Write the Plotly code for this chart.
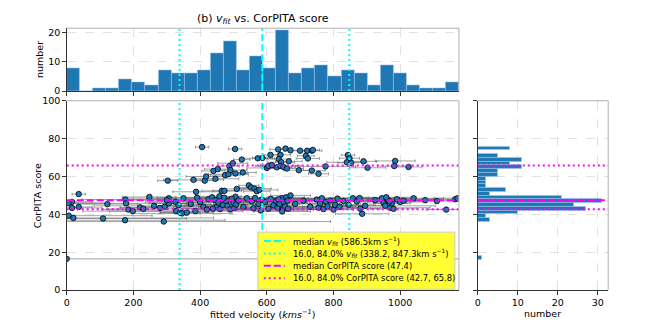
import plotly.graph_objects as go

# fitted velocity (km/s), CorPITA score, velocity error (km/s)
vfit = [0, 6, 20, 16, 16, 36, 36, 5,
        109, 122, 175, 176, 178, 185, 198, 220, 230, 248, 262,
        280, 291, 294, 303, 306, 306, 300,
        326, 328, 340, 346, 350, 335,
        360, 380, 386, 388, 391, 372,
        406, 414, 418, 400, 410, 425, 420,
        440, 446, 453, 465, 436, 445, 450, 455, 460, 462, 468, 438, 458,
        473, 475, 485, 488, 491, 498, 505, 506, 506, 478, 482, 490, 495, 500, 503, 508, 472,
        510, 525, 528, 546, 515, 530, 540,
        553, 563, 570, 578, 573, 587, 555, 560, 565, 575, 582, 585,
        611, 600, 605, 615, 595, 605, 612, 620,
        634, 656, 641, 636, 643, 630, 640, 650, 660, 628, 632, 638, 645, 648, 652, 655, 658, 662, 664, 635, 646,
        666, 671, 700, 696, 671, 685,
        721, 735, 738, 717, 723, 735, 710, 730,
        755, 776, 750, 755, 760, 765, 770, 778, 782,
        800, 790, 805, 812, 818,
        843, 848, 840, 853, 830, 845, 858,
        890, 886, 870, 878, 895, 880,
        902, 925,
        945, 950, 955, 960, 965, 970, 975, 958, 968,
        985, 982, 980, 990, 1000, 1010,
        1025, 1040, 1075, 1110, 1138, 1165, 1172]
score = [16.5, 39.3, 38.1, 46.6, 43.4, 43.9, 50.7, 46.0,
         37.8, 45.4, 36.9, 47.8, 45.8, 42.5, 41.7, 43.7, 42.9, 49.2, 44.5,
         43.4, 36.2, 44.0, 57.8, 48.5, 45.8, 47.5,
         46.6, 41.7, 40.9, 40.5, 48.5, 44.8,
         40.9, 58.2, 41.7, 51.9, 48.8, 45.5,
         75.5, 57.8, 60.0, 46.5, 44.0, 48.0, 42.5,
         62.9, 58.8, 63.9, 52.4, 49.0, 47.5, 44.0, 46.2, 42.8, 48.5, 45.0, 43.0, 49.5,
         52.4, 60.7, 61.2, 65.5, 63.4, 67.0, 74.5, 61.6, 49.3, 47.0, 44.5, 42.6, 48.2, 46.0, 43.5, 45.2, 48.8,
         53.4, 68.9, 62.1, 55.3, 47.3, 44.0, 48.5,
         54.2, 53.6, 52.2, 52.9, 69.6, 69.8, 46.8, 43.2, 48.6, 45.5, 42.0, 47.8,
         71.4, 64.5, 65.5, 66.0, 46.5, 43.0, 48.2, 44.8,
         74.3, 74.7, 71.4, 69.2, 67.5, 64.8, 65.6, 65.0, 64.2, 47.0, 43.5, 45.5, 48.5, 42.6, 46.3, 44.2, 49.0, 47.2, 43.0, 48.0, 41.5,
         68.0, 73.8, 73.6, 63.3, 50.0, 45.5,
         73.6, 73.6, 74.0, 70.9, 69.5, 63.1, 47.2, 44.0,
         61.4, 65.3, 47.8, 43.5, 45.8, 48.5, 42.8, 46.5, 44.2,
         42.5, 47.3, 45.0, 48.3, 44.0,
         71.3, 69.6, 67.5, 67.2, 47.0, 45.0, 48.5,
         68.0, 40.3, 46.8, 48.6, 44.5, 43.0,
         64.6, 47.5,
         48.5, 46.0, 44.5, 48.0, 47.2, 43.5, 45.8, 49.0, 46.8,
         68.2, 65.5, 42.9, 48.0, 46.5, 47.2,
         65.0, 48.5, 47.5, 47.0, 42.5, 48.0, 48.5]
vfit_err = [1200, 250, 420, 60, 90, 40, 20, 120,
            250, 90, 300, 130, 200, 80, 150, 60, 110, 80, 180,
            120, 500, 70, 30, 140, 60, 100,
            90, 200, 60, 150, 110, 45,
            80, 90, 40, 70, 120, 60,
            20, 25, 60, 150, 90, 70, 40,
            35, 70, 40, 60, 80, 120, 55, 95, 140, 40, 75, 100, 65,
            35, 45, 60, 30, 50, 45, 20, 35, 55, 90, 130, 70, 110, 60, 85, 150, 40,
            45, 25, 40, 30, 80, 120, 60,
            35, 50, 40, 55, 50, 30, 90, 70, 110, 60, 140, 80,
            20, 60, 40, 35, 100, 75, 130, 55,
            25, 20, 30, 35, 40, 45, 60, 35, 50, 90, 110, 60, 80, 140, 70, 95, 55, 120, 65, 100, 85,
            40, 20, 25, 45, 60, 90,
            20, 30, 20, 25, 35, 40, 100, 80,
            30, 90, 70, 110, 60, 140, 90, 50, 75,
            60, 100, 70, 130, 50,
            20, 30, 60, 40, 110, 80, 60,
            40, 80, 90, 120, 70, 60,
            55, 90,
            100, 70, 150, 60, 80, 120, 55, 90, 65,
            60, 50, 70, 110, 80, 60,
            40, 90, 120, 80, 60, 100, 70]

# histogram counts
v_bin_width = 39.2
v_counts = [8, 0, 1, 1, 4, 3, 2, 7, 6, 6, 7, 13, 17, 7, 12, 8, 21, 6, 8, 9,
            5, 7, 6, 2, 9, 6, 2, 1, 1, 3]
s_bin_start = 16.3
s_bin_width = 1.987
s_counts = [1, 0, 0, 0, 0, 0, 0, 0, 0, 0, 3, 2, 10, 27, 24, 31, 21, 3, 7, 2,
            2, 2, 5, 5, 11, 8, 11, 5, 0, 8]

v_med, v_lo, v_hi = 586.5, 338.2, 847.3
s_med, s_lo, s_hi = 47.4, 42.7, 65.8
x_max = 1176
s_max = 100

BLUE = "#1f77b4"
CYAN = "#00ffff"
MAG = "#ff00ff"
FONT = "DejaVu Sans"
DASH = "7px,3px"
DOT = "2px,3px"

W, H = 654, 327


def px_x(p):
    return p / W


def px_y(p):
    return (H - p) / H


fig = go.Figure()

# main scatter with horizontal error bars
fig.add_trace(go.Scatter(
    x=vfit, y=score, mode="markers", showlegend=False,
    marker=dict(color=BLUE, size=5.5, line=dict(color="black", width=0.8)),
    error_x=dict(type="data", array=vfit_err, color="rgba(90,90,90,0.55)",
                 thickness=1, width=1.5),
    xaxis="x", yaxis="y",
))

# reference lines in main panel
fig.add_trace(go.Scatter(x=[v_med, v_med], y=[0, s_max], mode="lines", showlegend=False,
                         line=dict(color=CYAN, width=2, dash=DASH)))
fig.add_trace(go.Scatter(x=[v_lo, v_lo, None, v_hi, v_hi], y=[0, s_max, None, 0, s_max],
                         mode="lines", showlegend=False, line=dict(color=CYAN, width=2, dash=DOT)))
fig.add_trace(go.Scatter(x=[0, x_max], y=[s_med, s_med], mode="lines", showlegend=False,
                         line=dict(color=MAG, width=2, dash=DASH)))
fig.add_trace(go.Scatter(x=[0, x_max, None, 0, x_max], y=[s_lo, s_lo, None, s_hi, s_hi],
                         mode="lines", showlegend=False, line=dict(color=MAG, width=2, dash=DOT)))

# top histogram: velocity
fig.add_trace(go.Bar(
    y=v_counts, x0=v_bin_width / 2, dx=v_bin_width, width=v_bin_width,
    marker=dict(color=BLUE, line=dict(color="rgba(160,200,235,0.9)", width=0.6)),
    showlegend=False, xaxis="x2", yaxis="y2",
))
# right histogram: score
fig.add_trace(go.Bar(
    x=s_counts, y0=s_bin_start + s_bin_width / 2, dy=s_bin_width, width=s_bin_width,
    orientation="h",
    marker=dict(color=BLUE, line=dict(color="rgba(160,200,235,0.9)", width=0.6)),
    showlegend=False, xaxis="x3", yaxis="y3",
))

shapes = []
for v, d in [(v_med, DASH), (v_lo, DOT), (v_hi, DOT)]:
    shapes.append(dict(type="line", xref="x2", yref="y2 domain", x0=v, x1=v, y0=0, y1=1,
                       line=dict(color=CYAN, width=2, dash=d)))
for s, d in [(s_med, DASH), (s_lo, DOT), (s_hi, DOT)]:
    shapes.append(dict(type="line", xref="x3 domain", yref="y3", x0=0, x1=1, y0=s, y1=s,
                       line=dict(color=MAG, width=2, dash=d)))
# light top/right frame edges
for xa, ya in [("x", "y"), ("x2", "y2"), ("x3", "y3")]:
    shapes.append(dict(type="line", xref=f"{xa} domain", yref=f"{ya} domain",
                       x0=0, x1=1, y0=1, y1=1, line=dict(color="#b0b0b0", width=1)))
    shapes.append(dict(type="line", xref=f"{xa} domain", yref=f"{ya} domain",
                       x0=1, x1=1, y0=0, y1=1, line=dict(color="#b0b0b0", width=1)))

# hand-built legend box (matplotlib-style compact rows)
vfit_label = "<i>v</i><sub><i>fit</i></sub>"
legend_rows = [
    (CYAN, DASH, f"median {vfit_label} ({v_med}km s<sup>−1</sup>)"),
    (CYAN, DOT, f"16.0, 84.0% {vfit_label} ({v_lo}, {v_hi}km s<sup>−1</sup>)"),
    (MAG, DASH, f"median CorPITA score ({s_med})"),
    (MAG, DOT, f"16.0, 84.0% CorPITA score ({s_lo}, {s_hi})"),
]
shapes.append(dict(type="rect", xref="paper", yref="paper",
                   x0=px_x(256), x1=px_x(454), y0=px_y(293), y1=px_y(234),
                   fillcolor="#ffff33", line=dict(color="#cccccc", width=1), layer="above"))
annotations = []
for i, (col, d, txt) in enumerate(legend_rows):
    yy = 243.3 + 12.8 * i
    shapes.append(dict(type="line", xref="paper", yref="paper",
                       x0=px_x(262), x1=px_x(283), y0=px_y(yy), y1=px_y(yy),
                       line=dict(color=col, width=2, dash=d), layer="above"))
    annotations.append(dict(text=txt, x=px_x(289), y=px_y(yy), xref="paper", yref="paper",
                            showarrow=False, xanchor="left", yanchor="middle",
                            font=dict(family=FONT, size=8.4, color="black")))

annotations += [
    dict(text=f"(b) {vfit_label} vs. CorPITA score", x=px_x(261), y=px_y(13),
         xref="paper", yref="paper", showarrow=False, xanchor="center", yanchor="middle",
         font=dict(family=FONT, size=11)),
    dict(text="fitted velocity (<i>kms<sup>−1</sup></i>)", x=px_x(261), y=px_y(318.5),
         xref="paper", yref="paper", showarrow=False, xanchor="center", yanchor="middle",
         font=dict(family=FONT, size=9.5)),
    dict(text="number", x=px_x(542), y=px_y(318.5),
         xref="paper", yref="paper", showarrow=False, xanchor="center", yanchor="middle",
         font=dict(family=FONT, size=9.5)),
    dict(text="CorPITA score", x=px_x(35), y=px_y(196), textangle=-90,
         xref="paper", yref="paper", showarrow=False, xanchor="center", yanchor="middle",
         font=dict(family=FONT, size=9.5)),
    dict(text="number", x=px_x(36), y=px_y(55), textangle=-90,
         xref="paper", yref="paper", showarrow=False, xanchor="center", yanchor="middle",
         font=dict(family=FONT, size=9.5)),
]

main_x = [px_x(64), px_x(458)]
main_y = [px_y(294), px_y(98)]
top_y = [px_y(88), px_y(23)]
right_x = [px_x(477), px_x(608)]

axis_common = dict(
    showline=True, linecolor="#333", linewidth=1, ticks="outside", ticklen=3.5,
    tickcolor="#333", showgrid=True, gridcolor="#e2e2e2", griddash="dash",
    gridwidth=1, zeroline=False, tickfont=dict(family=FONT, size=9.5, color="black"),
)

fig.update_layout(
    width=W, height=H,
    margin=dict(l=0, r=0, t=0, b=0),
    paper_bgcolor="white", plot_bgcolor="white",
    font=dict(family=FONT, color="black"),
    bargap=0,
    showlegend=False,
    xaxis=dict(axis_common, domain=main_x, range=[0, x_max], tickvals=[0, 200, 400, 600, 800, 1000],
               anchor="y"),
    yaxis=dict(axis_common, domain=main_y, range=[0, s_max], tickvals=[0, 20, 40, 60, 80, 100],
               anchor="x"),
    xaxis2=dict(axis_common, domain=main_x, range=[0, x_max], tickvals=[0, 200, 400, 600, 800, 1000],
                showticklabels=False, anchor="y2"),
    yaxis2=dict(axis_common, domain=top_y, range=[0, 21.6], tickvals=[0, 10, 20], anchor="x2"),
    xaxis3=dict(axis_common, domain=right_x, range=[0, 32.6], tickvals=[0, 10, 20, 30], anchor="y3"),
    yaxis3=dict(axis_common, domain=main_y, range=[0, s_max], tickvals=[0, 20, 40, 60, 80, 100],
                showticklabels=False, anchor="x3"),
    shapes=shapes,
    annotations=annotations,
)

fig.write_html("out.html", config={"displayModeBar": False},
               post_script="document.body.style.margin='0';")
